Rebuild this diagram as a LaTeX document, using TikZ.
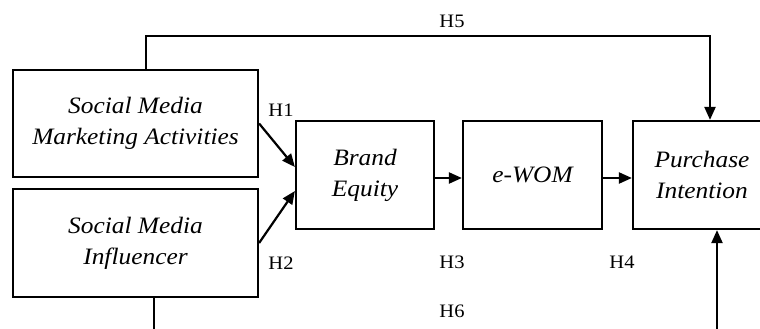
\documentclass[tikz,border=0pt]{standalone}
\usepackage{fontspec}
\setmainfont{Liberation Serif}
\newfontfamily\stretchfam[FakeStretch=1.08]{Liberation Serif}
\usetikzlibrary{arrows.meta}
\begin{document}
\begin{tikzpicture}[x=1pt,y=-1pt,line width=2.2pt,
  box/.style={draw, rectangle, align=center, inner sep=0pt,
    font=\stretchfam\itshape\fontsize{23.5}{31}\selectfont},
  arr/.style={-{Triangle[length=13pt,width=11pt]}},
  hyp/.style={inner sep=0pt, font=\stretchfam\fontsize{19}{20}\selectfont}]
\useasboundingbox (0,0) rectangle (760,329);
\clip (0,0) rectangle (760,329);
\node[box, minimum width=245pt, minimum height=107pt] (smma) at (135.5,123.5) {Social Media\\Marketing Activities};
\node[box, minimum width=245pt, minimum height=108pt] (smi) at (135.5,243) {Social Media\\Influencer};
\node[box, minimum width=138pt, minimum height=108pt] (be) at (365,175) {Brand\\Equity};
\node[box, minimum width=139pt, minimum height=108pt] (ewom) at (532.5,175) {e-WOM};
\node[box, minimum width=138pt, minimum height=108pt] (pi) at (702,175) {Purchase\\Intention};
\draw[arr] (smma.east) -- ([yshift=8pt]be.west);
\draw[arr] (smi.east) -- ([yshift=-16pt]be.west);
\draw[arr] ([yshift=-3pt]be.east) -- ([yshift=-3pt]ewom.west);
\draw[arr] ([yshift=-3pt]ewom.east) -- ([yshift=-3pt]pi.west);
\draw[arr] ([xshift=10.5pt]smma.north) -- ++(0,-33) -| ([xshift=8pt]pi.north);
\draw[arr] ([xshift=18.5pt]smi.south) -- ++(0,60) -| ([xshift=15pt]pi.south);
\node[hyp] (h1) at (281,110) {H1};
\node[hyp] (h2) at (281,263) {H2};
\node[hyp] (h3) at (452,262) {H3};
\node[hyp] (h4) at (622,262) {H4};
\node[hyp] (h5) at (452,21) {H5};
\node[hyp] (h6) at (452,311) {H6};
\end{tikzpicture}
\end{document}
